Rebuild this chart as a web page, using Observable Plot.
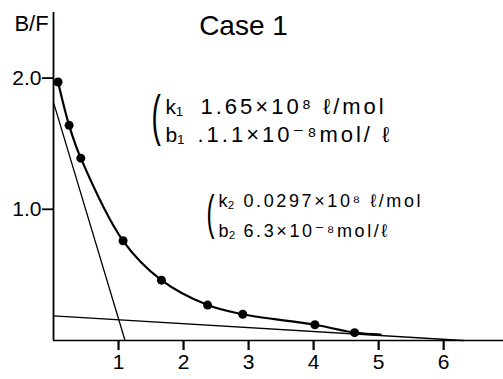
<!DOCTYPE html>
<html><head><meta charset="utf-8">
<script src="https://cdn.jsdelivr.net/npm/d3@7"></script>
<script src="https://cdn.jsdelivr.net/npm/@observablehq/plot@0.6"></script>
<style>body{margin:0;background:#fff} svg{display:block}</style>
</head><body><div id="chart"></div>
<script>
// Measured points (bound, B/F)
const boundX = [0.07, 0.24, 0.42, 1.07, 1.66, 2.37, 2.91, 4.02, 4.63];
const bfY    = [1.97, 1.64, 1.39, 0.76, 0.46, 0.27, 0.20, 0.12, 0.06];
// tail of the fitted curve beyond the last point
const tailX = [5.03];
const tailY = [0.045];
// binding sites (k in 1e8 l/mol, b in 1e-8 mol/l)
const siteK = [1.65, 0.0297];
const siteB = [1.1, 6.3];
const xTicks = [1, 2, 3, 4, 5, 6];
const yTicks = [1, 2];
const yTickLabels = ["1.0", "2.0"];
const titleText = "Case 1";
const yLabelText = "B/F";
const ann1Names = ["k₁", "b₁"];
const ann1Values = ["1.65×10⁸ ℓ/mol", ".1.1×10⁻⁸mol/ ℓ"];
const ann2Names = ["k₂", "b₂"];
const ann2Values = ["0.0297×10⁸ ℓ/mol", "6.3×10⁻⁸mol/ℓ"];

const pts = boundX.map((x, i) => ({x, y: bfY[i]}));
const curve = pts.concat(tailX.map((x, i) => ({x, y: tailY[i]})));
const lines = siteK.map((k, i) => [{x: 0, y: k * siteB[i], s: i}, {x: siteB[i], y: 0, s: i}]).flat();

const FONT = "'Liberation Sans', Arial, 'DejaVu Sans', sans-serif";
const txt = (arr, o) => Plot.text(arr, {text: d => d, frameAnchor: "top-left", textAnchor: "start", lineAnchor: "top", fill: "#000", fontFamily: FONT, ...o});

const chart = Plot.plot({
  width: 503, height: 379,
  marginLeft: 53, marginRight: 0, marginTop: 12, marginBottom: 39,
  x: {domain: [0, 6.92], label: null},
  y: {domain: [0, 2.5], label: null},
  style: {fontFamily: FONT, fontSize: "21px", color: "#000", background: "#fff"},
  marks: [
    Plot.axisX({ticks: xTicks, label: null, tickSize: 10, tickPadding: 4, stroke: "#000", strokeWidth: 2.2, tickFormat: d => String(d), fontSize: 21}),
    Plot.axisY({ticks: yTicks, label: null, tickSize: 11, tickPadding: 1, stroke: "#000", strokeWidth: 1.8, tickFormat: d => yTickLabels[yTicks.indexOf(d)], fontSize: 21}),
    Plot.ruleX([0], {stroke: "#000", strokeWidth: 1.8}),
    Plot.ruleY([0], {stroke: "#000", strokeWidth: 1.6}),
    Plot.line(lines, {x: "x", y: "y", z: "s", stroke: "#000", strokeWidth: 1.3}),
    Plot.line(curve, {x: "x", y: "y", curve: "catmull-rom", stroke: "#000", strokeWidth: 2.2}),
    Plot.dot(pts, {x: "x", y: "y", r: 4.5, fill: "#000", stroke: "none"}),
    txt([titleText], {fontSize: 28, dx: 190, dy: 3, textAnchor: "middle"}),
    txt([yLabelText], {fontSize: 22, dx: -22, dy: 3, textAnchor: "middle"}),
    txt(["("], {fontSize: 56, dx: 98, dy: 82}),
    txt([ann1Names[0]], {fontSize: 21, dx: 112, dy: 87}),
    txt([ann1Names[1]], {fontSize: 21, dx: 112, dy: 115}),
    txt([ann1Values[0]], {fontSize: 22, dx: 147, dy: 86}),
    txt([ann1Values[1]], {fontSize: 22, dx: 144, dy: 114}),
    txt(["("], {fontSize: 48, dx: 153, dy: 182}),
    txt([ann2Names[0]], {fontSize: 18, dx: 165, dy: 182}),
    txt([ann2Names[1]], {fontSize: 18, dx: 165, dy: 212}),
    txt([ann2Values[0]], {fontSize: 18, dx: 190, dy: 182}),
    txt([ann2Values[1]], {fontSize: 18, dx: 190, dy: 212})
  ]
});
d3.select(chart).selectAll("text").each(function() {
  const t = this.textContent;
  if (t === "(") {
    const tr = this.getAttribute("transform") || "";
    this.setAttribute("transform", tr + " scale(0.5,1)");
  } else if (t.includes("mol")) {
    this.setAttribute("letter-spacing", this.parentNode.getAttribute("font-size") == 18 ? "2.6" : "3");
  }
});
document.getElementById("chart").appendChild(chart);
</script></body></html>
